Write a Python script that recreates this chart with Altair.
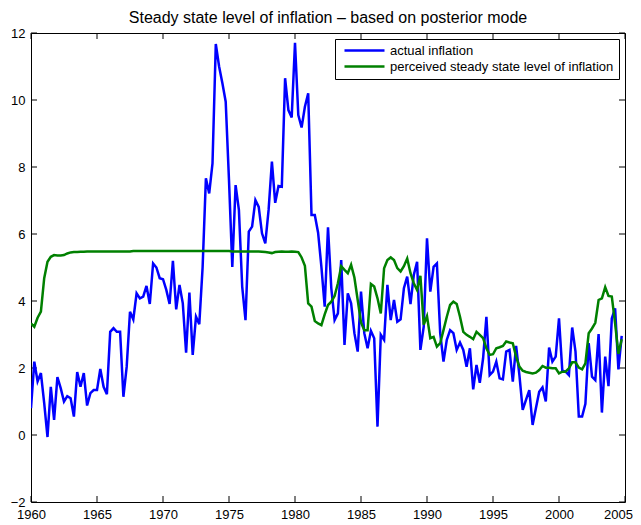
import altair as alt
import pandas as pd

# Quarterly observations, 1960Q1 .. 2004Q4
start_year = 1960
actual_inflation = [
    0.80, 2.19, 1.60, 1.85, 0.95, -0.06, 1.44, 0.45, 1.73, 1.40,
    1.00, 1.16, 1.10, 0.55, 1.88, 1.44, 1.85, 0.88, 1.25, 1.34,
    1.34, 1.97, 1.44, 1.22, 3.08, 3.19, 3.08, 3.08, 1.14, 2.04,
    3.68, 3.45, 4.23, 4.08, 4.13, 4.45, 3.91, 5.12, 5.00, 4.68,
    4.65, 4.33, 3.91, 5.20, 3.75, 4.48, 3.93, 2.46, 4.25, 2.39,
    3.53, 3.31, 5.00, 7.66, 7.21, 8.11, 11.67, 11.00, 10.50, 9.95,
    7.60, 5.02, 7.46, 6.72, 4.43, 3.43, 6.07, 6.22, 7.01, 6.81,
    6.02, 5.72, 6.72, 8.16, 6.93, 7.43, 7.41, 10.65, 9.70, 9.48,
    11.71, 9.55, 9.18, 9.80, 10.20, 6.57, 6.57, 6.04, 5.02, 3.83,
    6.20, 4.38, 3.43, 3.63, 5.22, 2.69, 4.23, 3.93, 3.04, 2.49,
    4.28, 3.04, 2.59, 3.11, 2.89, 0.25, 2.99, 2.84, 4.48, 3.43,
    4.03, 3.38, 3.45, 4.38, 4.73, 3.91, 4.78, 5.17, 2.54, 3.23,
    5.87, 4.28, 5.02, 5.12, 3.04, 2.19, 2.84, 3.13, 3.04, 2.54,
    2.76, 2.54, 2.04, 2.59, 1.36, 2.09, 1.56, 2.29, 3.53, 1.79,
    1.89, 2.19, 1.69, 1.66, 2.49, 2.54, 1.59, 2.66, 1.79, 0.75,
    1.05, 1.34, 0.30, 0.80, 1.29, 1.42, 1.00, 2.61, 2.19, 2.34,
    3.48, 1.92, 1.89, 1.79, 3.21, 2.49, 0.55, 0.55, 0.93, 2.74,
    1.74, 1.64, 3.01, 0.67, 2.34, 1.46, 3.48, 3.78, 1.96, 2.96,
]

perceived_steady_state = [
    3.33, 3.23, 3.50, 3.68, 4.68, 5.17, 5.32, 5.37, 5.36, 5.36,
    5.37, 5.42, 5.45, 5.46, 5.46, 5.47, 5.47, 5.48, 5.48, 5.48,
    5.48, 5.48, 5.48, 5.48, 5.48, 5.48, 5.48, 5.48, 5.48, 5.48,
    5.48, 5.49, 5.49, 5.49, 5.49, 5.49, 5.49, 5.49, 5.49, 5.49,
    5.49, 5.49, 5.49, 5.49, 5.49, 5.49, 5.49, 5.49, 5.49, 5.49,
    5.49, 5.49, 5.49, 5.49, 5.49, 5.49, 5.49, 5.49, 5.49, 5.49,
    5.49, 5.48, 5.48, 5.48, 5.48, 5.48, 5.48, 5.48, 5.48, 5.48,
    5.47, 5.46, 5.45, 5.43, 5.46, 5.47, 5.48, 5.47, 5.47, 5.48,
    5.47, 5.46, 5.30, 5.05, 3.93, 3.83, 3.40, 3.33, 3.28, 3.60,
    3.88, 3.98, 4.15, 4.53, 5.04, 4.93, 4.83, 5.08, 4.70, 4.03,
    3.36, 3.13, 3.13, 4.51, 4.43, 4.08, 3.63, 4.98, 5.22, 5.30,
    5.22, 4.98, 4.88, 5.04, 5.27, 4.83, 4.53, 4.33, 4.75, 3.29,
    3.55, 2.89, 2.93, 2.64, 2.74, 3.13, 3.53, 3.88, 3.98, 3.91,
    3.53, 3.08, 2.99, 2.93, 2.86, 3.08, 2.99, 2.89, 2.59, 2.39,
    2.41, 2.59, 2.62, 2.66, 2.79, 2.76, 2.74, 2.34, 2.04, 1.92,
    1.88, 1.86, 1.84, 1.86, 1.94, 2.06, 2.01, 2.01, 1.99, 1.99,
    1.84, 1.89, 1.89, 1.99, 2.17, 2.17, 2.01, 1.96, 2.14, 3.04,
    3.18, 3.35, 4.03, 4.08, 4.41, 4.15, 4.13, 3.33, 2.42, 2.86,
]

series_names = ["actual inflation", "perceived steady state level of inflation"]
series_colors = ["#0000ff", "#008000"]
x_ticks = [1960, 1965, 1970, 1975, 1980, 1985, 1990, 1995, 2000, 2005]
y_ticks = [-2, 0, 2, 4, 6, 8, 10, 12]
title_text = "Steady state level of inflation \u2013 based on posterior mode"

rows = []
for name, vals in zip(series_names, [actual_inflation, perceived_steady_state]):
    for i, v in enumerate(vals):
        rows.append({"year": start_year + i / 4.0, "value": v, "series": name})
df = pd.DataFrame(rows)

W, H = 594, 469
TICK = 6
FONT = "Liberation Sans"
LABEL_SIZE = 13

xscale = alt.Scale(domain=[1960, 2005], nice=False, zero=False)
yscale = alt.Scale(domain=[-2, 12], nice=False, zero=False)

lines = alt.Chart(df).mark_line(strokeWidth=2.5, clip=True).encode(
    x=alt.X("year:Q", scale=xscale,
            axis=alt.Axis(title=None, values=x_ticks, format="d", labelFlush=False,
                          labelPadding=6, tickSize=0, ticks=False, domain=False,
                          grid=False, labelOverlap=False, labelFont=FONT,
                          labelFontSize=LABEL_SIZE, labelColor="black",
                          labelOffset={"condition": {"test": "datum.value == 2005",
                                                     "value": -7},
                                       "value": 0})),
    y=alt.Y("value:Q", scale=yscale,
            axis=alt.Axis(title=None, values=y_ticks, format="d", labelFlush=False,
                          labelPadding=6, tickSize=0, ticks=False, domain=False,
                          grid=False, labelOverlap=False, labelFont=FONT,
                          labelFontSize=LABEL_SIZE, labelColor="black")),
    color=alt.Color("series:N",
                    scale=alt.Scale(domain=series_names, range=series_colors),
                    legend=alt.Legend(title=None, orient="none", legendX=304, legendY=6,
                                      strokeColor="black", fillColor="white",
                                      padding=5, symbolType="M-4,0H4",
                                      symbolSize=100, symbolStrokeWidth=2.5,
                                      symbolOffset=18,
                                      labelFontSize=LABEL_SIZE, labelFont=FONT,
                                      labelColor="black", labelLimit=400,
                                      labelOffset=19, rowPadding=2)),
    detail="series:N",
)

xt = pd.DataFrame({"year": x_ticks})
yt = pd.DataFrame({"value": y_ticks})

bottom_ticks = alt.Chart(xt).mark_rule(color="black", strokeWidth=1).encode(
    x=alt.X("year:Q", scale=xscale), y=alt.value(H), y2=alt.value(H - TICK))
top_ticks = alt.Chart(xt).mark_rule(color="black", strokeWidth=1).encode(
    x=alt.X("year:Q", scale=xscale), y=alt.value(0), y2=alt.value(TICK))
left_ticks = alt.Chart(yt).mark_rule(color="black", strokeWidth=1).encode(
    y=alt.Y("value:Q", scale=yscale), x=alt.value(0), x2=alt.value(TICK))
right_ticks = alt.Chart(yt).mark_rule(color="black", strokeWidth=1).encode(
    y=alt.Y("value:Q", scale=yscale), x=alt.value(W), x2=alt.value(W - TICK))

chart = alt.layer(bottom_ticks, top_ticks, left_ticks, right_ticks, lines).properties(
    width=W, height=H,
    background="white",
    title=alt.TitleParams(title_text, font=FONT, fontSize=16, fontWeight="normal",
                          color="black", anchor="middle", offset=1),
    autosize=alt.AutoSizeParams(type="none"),
    padding={"left": 23, "top": 25, "right": 8, "bottom": 19},
).configure_view(stroke="black", strokeWidth=1)

chart.save("out.html", embed_options={"renderer": "svg", "actions": False})
